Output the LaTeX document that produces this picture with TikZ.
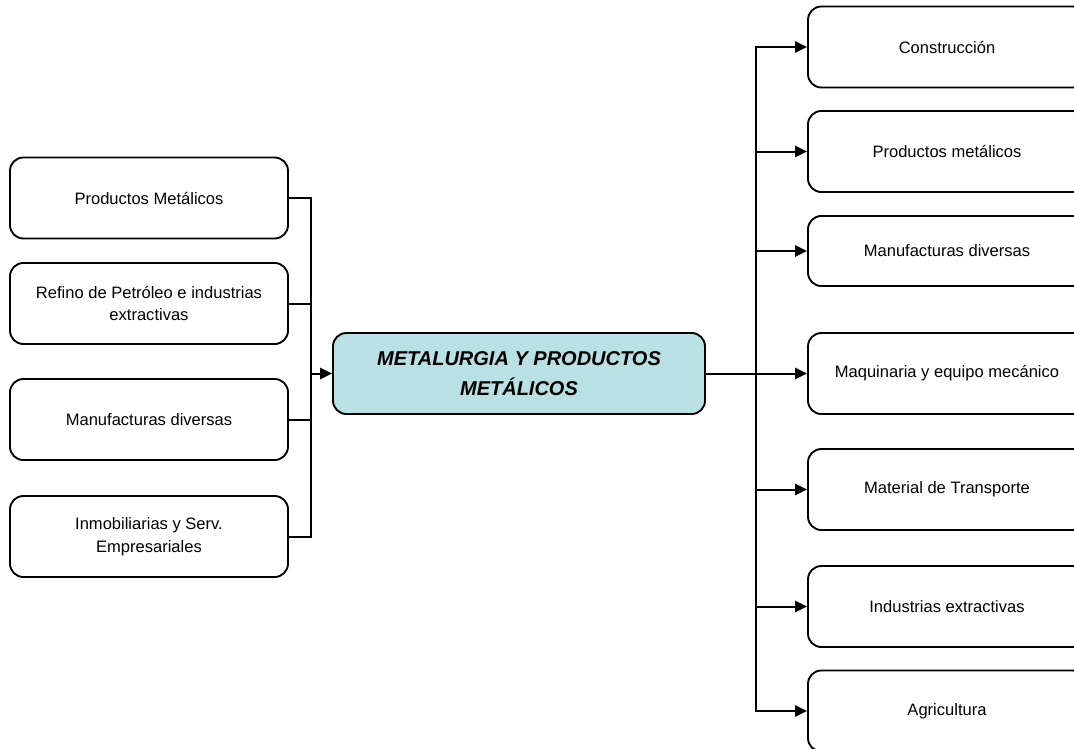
\documentclass[tikz,border=0pt]{standalone}
\usepackage{fontspec}
\setmainfont{Liberation Sans}
\usetikzlibrary{arrows.meta,positioning}
\definecolor{metalfill}{RGB}{185,224,226}

\begin{document}
\begin{tikzpicture}[x=0.75pt,y=-0.75pt,
	box/.style={draw,line width=1.4pt,rounded corners=10pt,minimum width=208.5pt,minimum height=60.75pt,align=center,inner sep=0pt,font=\fontsize{12.4}{17}\selectfont},
	hub/.style={box,fill=metalfill,minimum width=279pt,font=\fontsize{15}{22}\selectfont\bfseries\itshape},
	link/.style={line width=1.5pt},
	arr/.style={link,-{Triangle[length=9pt,width=8.5pt]}}]
	\useasboundingbox (0,0) rectangle (1074,749);
	% inputs
	\node[box] (l1) at (149,198) {Productos Metálicos};
	\node[box] (l2) at (149,303.5) {Refino de Petróleo e industrias\\extractivas};
	\node[box] (l3) at (149,419.5) {Manufacturas diversas};
	\node[box] (l4) at (149,536.5) {Inmobiliarias y Serv.\\Empresariales};
	% centre
	\node[hub] (mp) at (519,373.5) {METALURGIA Y PRODUCTOS\\METÁLICOS};
	% outputs
	\node[box] (r1) at (947,47) {Construcción};
	\node[box] (r2) at (947,151.5) {Productos metálicos};
	\node[box,minimum height=52.5pt] (r3) at (947,251) {Manufacturas diversas};
	\node[box] (r4) at (947,373.5) {Maquinaria y equipo mecánico};
	\node[box] (r5) at (947,489.5) {Material de Transporte};
	\node[box] (r6) at (947,606.5) {Industrias extractivas};
	\node[box] (r7) at (947,711) {Agricultura};
	\coordinate (lj) at (311,373.5);
	\coordinate (rj) at (756,373.5);
	\draw[link] (l1.east) -| (lj);
	\draw[link] (l4.east) -| (lj);
	\draw[link] (l2.east) -| (lj);
	\draw[link] (l3.east) -| (lj);
	\draw[arr] (lj) -- (mp.west);
	\draw[arr] (mp.east) -- (r4.west);
	\foreach \n in {r1,r2,r3,r5,r6,r7}
		\draw[arr] (rj) |- (\n.west);
\end{tikzpicture}
\end{document}
